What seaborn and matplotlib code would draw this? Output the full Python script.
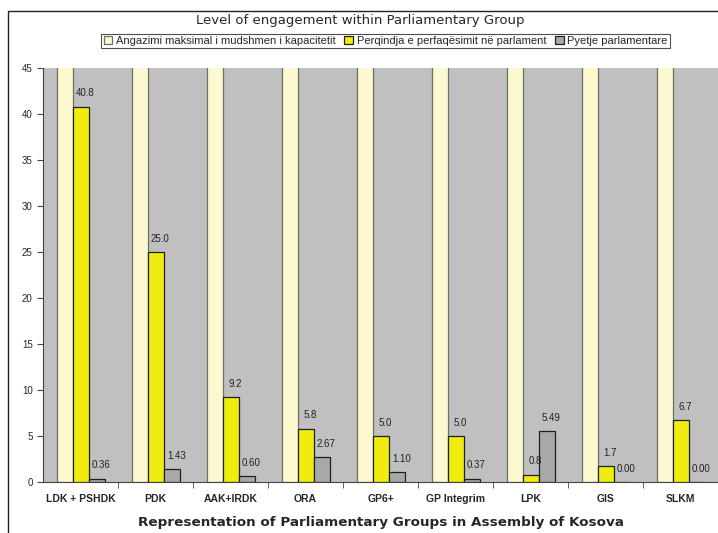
import pandas as pd
import matplotlib
matplotlib.use('Agg')
import matplotlib.pyplot as plt
import seaborn as sns
from matplotlib.lines import Line2D

# --- Data ---
groups = ["LDK + PSHDK", "PDK", "AAK+IRDK", "ORA", "GP6+", "GP Integrim", "LPK", "GIS", "SLKM"]
series = ["Angazimi maksimal i mudshmen i kapacitetit",
          "Perqindja e perfaqësimit në parlament",
          "Pyetje parlamentare"]
capacity = [100, 100, 100, 100, 100, 100, 100, 100, 100]
representation = [40.8, 25.0, 9.2, 5.8, 5.0, 5.0, 0.8, 1.7, 6.7]
questions = [0.36, 1.43, 0.60, 2.67, 1.10, 0.37, 5.49, 0.00, 0.00]
y_ticks = [0, 5, 10, 15, 20, 25, 30, 35, 40, 45]

df = pd.DataFrame({
    "group": groups * 3,
    "series": [series[0]] * 9 + [series[1]] * 9 + [series[2]] * 9,
    "value": capacity + representation + questions,
})

# --- Plot ---
sns.set_style("white")
plt.rcParams["font.family"] = ["Liberation Sans", "DejaVu Sans"]
colors = ["#FCF9D2", "#F0EC10", "#A8A8A8"]

fig = plt.figure(figsize=(7.18, 5.33), dpi=100)
ax = fig.add_axes([0.0599, 0.0957, 0.9401, 0.7767])
sns.barplot(data=df, x="group", y="value", hue="series", hue_order=series,
            palette=colors, width=0.64, saturation=1, edgecolor="#202020",
            linewidth=0.9, legend=False, ax=ax)
ax.set_facecolor("#C0C0C0")
ax.set_ylim(0, 45)
ax.set_xlim(-0.5, len(groups) - 0.5)
ax.set_yticks(y_ticks)
ax.tick_params(axis="y", labelsize=7, length=4, color="#444444", direction="out", left=True)
ax.tick_params(axis="x", which="major", length=0, labelsize=7.5, pad=9)
ax.set_xticks([i + 0.5 for i in range(len(groups) - 1)], minor=True)
ax.tick_params(axis="x", which="minor", length=4, color="#444444", bottom=True, direction="out")
for lbl in ax.get_xticklabels():
    lbl.set_fontweight("bold")
ax.set_ylabel("")
ax.set_xlabel("Representation of Parliamentary Groups in Assembly of Kosova",
              fontsize=9.7, fontweight="bold", family="DejaVu Sans", labelpad=8)
for side in ["top", "right"]:
    ax.spines[side].set_visible(False)
ax.spines["left"].set_color("#444444")
ax.spines["bottom"].set_color("#444444")

# light bars get a softer edge
for bar in ax.containers[0]:
    bar.set_edgecolor("#707060")

# value labels, a little right of centre like the original
for cont, fmt in [(ax.containers[1], "{:.1f}"), (ax.containers[2], "{:.2f}")]:
    for bar in cont:
        h = bar.get_height()
        ax.annotate(fmt.format(h), (bar.get_x() + bar.get_width() / 2, h),
                    xytext=(3.5, 6), textcoords="offset points", ha="center", va="bottom",
                    fontsize=7, color="#222222")

leg = ax.legend(ax.containers, series, loc="center", bbox_to_anchor=(0.537, 0.923),
                bbox_transform=fig.transFigure,
                ncol=3, fontsize=8, frameon=True, fancybox=False, edgecolor="#222222",
                handlelength=0.8, handleheight=0.8, handletextpad=0.3, columnspacing=0.8,
                borderpad=0.2, borderaxespad=0)
leg.get_frame().set_linewidth(0.8)

fig.text(0.502, 0.962, "Level of engagement within Parliamentary Group", ha="center", va="center",
         fontsize=9.5, family="DejaVu Sans")

# outer chart border (clipped at right and bottom)
fig.add_artist(Line2D([8 / 718, 8 / 718], [0, 1 - 11 / 533], color="#222222", lw=1))
fig.add_artist(Line2D([8 / 718, 1], [1 - 11 / 533, 1 - 11 / 533], color="#222222", lw=1))

plt.savefig("out.png", dpi=100)
